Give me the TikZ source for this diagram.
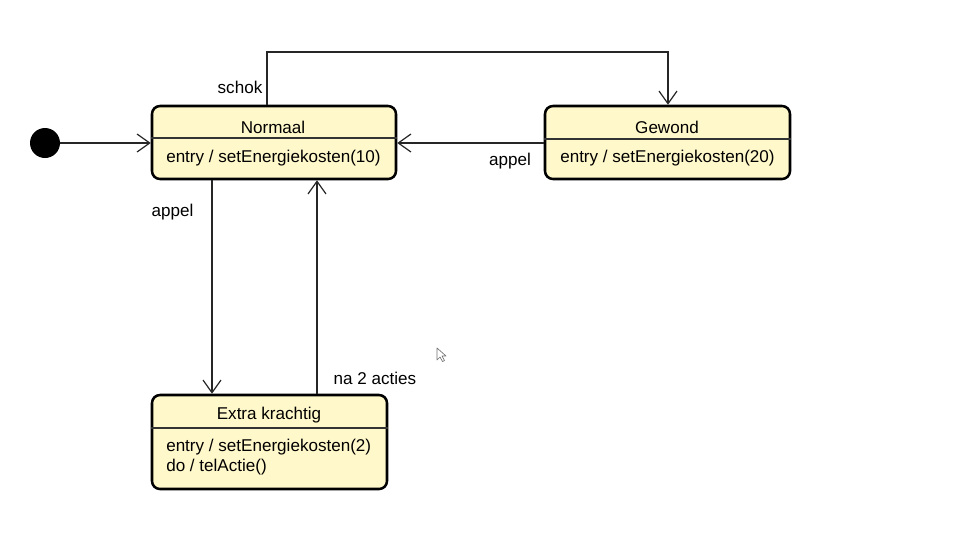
\documentclass[tikz,border=0pt]{standalone}
\usepackage{fontspec}
\setmainfont{Liberation Sans}
\usetikzlibrary{arrows.meta}
\begin{document}
\begin{tikzpicture}[x=0.75pt,y=-0.75pt,
  font=\fontsize{12.8pt}{15pt}\selectfont,
  statebox/.style={draw=black, line width=1.9pt, rounded corners=6pt,
    fill=yellowfill, inner sep=0pt},
  divider/.style={draw=black!80, line width=0.8pt},
  trans/.style={draw=black!85, line width=0.9pt,
    -{Straight Barb[length=9.5pt,width=13.5pt,line width=0.9pt]}},
  lbl/.style={inner sep=0pt, anchor=center},
  entrytxt/.style={inner sep=0pt, anchor=west, align=left}]
\definecolor{yellowfill}{HTML}{FFF8CA}
\useasboundingbox (0,0) rectangle (971,558);
\fill[white] (0,0) rectangle (971,558);

% states
\node[statebox, minimum width=183pt, minimum height=54.75pt] (normaal) at (274,142.5) {};
\node[statebox, minimum width=183.75pt, minimum height=54.75pt] (gewond) at (667.5,142.5) {};
\node[statebox, minimum width=176.25pt, minimum height=70.5pt] (extra) at (269.5,442) {};

% compartment dividers
\draw[divider] (normaal.west |- 0,138) -- (normaal.east |- 0,138);
\draw[divider] (gewond.west |- 0,139) -- (gewond.east |- 0,139);
\draw[divider] (extra.west |- 0,428) -- (extra.east |- 0,428);

% state texts
\node[lbl] (tn) at (273,127) {Normaal};
\node[entrytxt] (en) at (166,158) {entry / setEnergiekosten(10)};
\node[lbl] (tg) at (667,127) {Gewond};
\node[entrytxt] (eg) at (560,158) {entry / setEnergiekosten(20)};
\node[lbl] (te) at (269,415) {Extra krachtig};
\node[entrytxt] (ee) at (166,447.5) {entry / setEnergiekosten(2)};
\node[entrytxt] (de) at (166,467.5) {do / telActie()};

% initial pseudostate
\node[circle, fill=black, minimum size=22.5pt, inner sep=0pt] (init) at (45,143) {};

% routing coordinates
\coordinate (xa) at (212,0);
\coordinate (xb) at (317,0);
\coordinate (xs) at (267,0);
\coordinate (xg) at (668,0);
\coordinate (ytop) at (0,52);

% transitions
\draw[trans] (init.east) -- (normaal.west |- init.east);
\draw[trans] (gewond.west |- 0,143) -- (normaal.east |- 0,143);
\draw[trans] (normaal.north -| xs) -- (xs |- ytop) -- (xg |- ytop) -- (gewond.north -| xg);
\draw[trans] (normaal.south -| xa) -- (extra.north -| xa);
\draw[trans] (extra.north -| xb) -- (normaal.south -| xb);

% transition labels
\node[lbl] (lschok) at (240,87.5) {schok};
\node[lbl] (lappel1) at (172.5,212) {appel};
\node[lbl] (lappel2) at (510,161) {appel};
\node[lbl] (lna) at (375,378.5) {na 2 acties};

% mouse pointer
\draw[black!55, line width=0.5pt, fill=white, line join=round]
  (437,348) -- (437,360) -- (440,357) -- (442.5,361.5) -- (444.5,360.5) -- (442,356) -- (446,356) -- cycle;
\end{tikzpicture}
\end{document}
